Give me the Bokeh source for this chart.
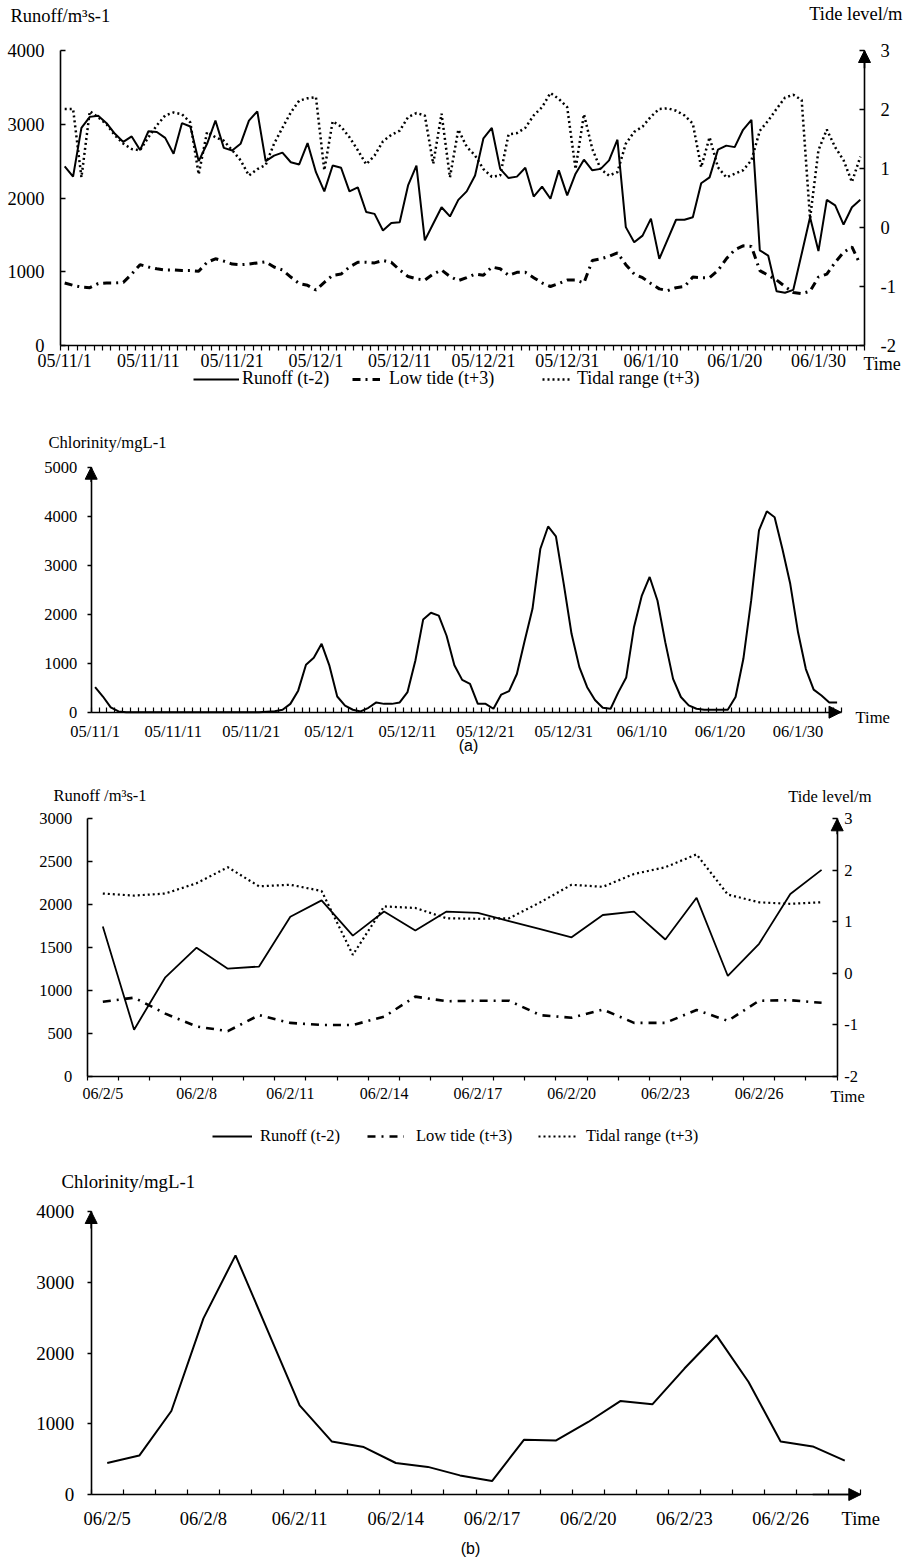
import numpy as np
from bokeh.plotting import figure
from bokeh.models import (Range1d, LinearAxis, FixedTicker, Label, Legend,
                          LegendItem, Arrow, NormalHead)
from bokeh.layouts import column
from bokeh.embed import file_html
from bokeh.resources import INLINE

SERIF = "Liberation Serif"
SANS = "Liberation Sans"

# ---------------- (a) daily series, 05/11/1 .. 06/2/4 ----------------
runoff_a = [2430, 2290, 2950, 3100, 3115, 3015, 2870, 2760, 2835, 2650,
            2905, 2895, 2815, 2600, 3015, 2970, 2500, 2735, 3050, 2680,
            2645, 2735, 3050, 3175, 2500, 2575, 2615, 2485, 2455, 2745,
            2350, 2090, 2440, 2410, 2090, 2145, 1810, 1785, 1560, 1660,
            1670, 2170, 2440, 1425, 1650, 1875, 1750, 1975, 2090, 2305,
            2810, 2950, 2395, 2270, 2290, 2410, 2020, 2155, 1990, 2375,
            2035, 2330, 2520, 2375, 2395, 2510, 2790, 1605, 1400, 1490,
            1720, 1175, 1440, 1705, 1705, 1740, 2200, 2280, 2655, 2710,
            2690, 2925, 3060, 1290, 1220, 735, 715, 755, 1245, 1740,
            1280, 1975, 1900, 1640, 1875, 1975]
low_tide_a = [-0.94, -0.98, -1.01, -1.02, -0.95, -0.94, -0.94, -0.93, -0.79, -0.63,
              -0.67, -0.70, -0.72, -0.72, -0.73, -0.73, -0.74, -0.59, -0.53, -0.57,
              -0.62, -0.63, -0.62, -0.60, -0.58, -0.67, -0.72, -0.84, -0.95, -0.98,
              -1.06, -0.93, -0.81, -0.79, -0.67, -0.59, -0.59, -0.60, -0.56, -0.59,
              -0.72, -0.83, -0.87, -0.89, -0.79, -0.72, -0.83, -0.90, -0.85, -0.79,
              -0.81, -0.67, -0.70, -0.81, -0.76, -0.76, -0.85, -0.94, -1.00, -0.95,
              -0.89, -0.89, -0.94, -0.56, -0.53, -0.49, -0.43, -0.63, -0.79, -0.85,
              -0.95, -1.04, -1.07, -1.02, -1.00, -0.84, -0.85, -0.85, -0.73, -0.53,
              -0.38, -0.31, -0.32, -0.73, -0.81, -0.89, -1.00, -1.10, -1.12, -1.08,
              -0.84, -0.79, -0.59, -0.42, -0.33, -0.63]
tidal_range_a = [2.01, 2.01, 0.85, 1.97, 1.87, 1.75, 1.56, 1.42, 1.33, 1.31,
                 1.53, 1.73, 1.90, 1.95, 1.92, 1.78, 0.90, 1.62, 1.53, 1.47,
                 1.31, 1.14, 0.88, 0.99, 1.06, 1.42, 1.69, 1.95, 2.15, 2.19,
                 2.21, 0.97, 1.80, 1.71, 1.53, 1.31, 1.07, 1.22, 1.46, 1.57,
                 1.64, 1.87, 1.94, 1.90, 1.08, 1.93, 0.85, 1.66, 1.37, 1.22,
                 0.99, 0.86, 0.88, 1.58, 1.60, 1.69, 1.90, 2.04, 2.28, 2.18,
                 2.04, 0.99, 1.92, 1.33, 0.99, 0.88, 0.94, 1.42, 1.62, 1.71,
                 1.88, 2.01, 2.02, 1.98, 1.90, 1.76, 1.02, 1.53, 1.02, 0.85,
                 0.91, 0.97, 1.14, 1.64, 1.81, 2.01, 2.20, 2.25, 2.16, 0.15,
                 1.31, 1.66, 1.36, 1.14, 0.77, 1.20]
chlorinity_a = [510, 320, 100, 15, 0, 0, 0, 0, 0, 0,
                0, 0, 0, 0, 0, 0, 0, 0, 0, 0,
                0, 0, 10, 20, 50, 170, 440, 970, 1110, 1395,
                950, 320, 135, 50, 15, 90, 200, 170, 170, 200,
                410, 1050, 1890, 2030, 1970, 1560, 960, 660, 580, 170,
                170, 70, 360, 430, 780, 1460, 2110, 3330, 3790, 3590,
                2620, 1600, 920, 510, 250, 90, 70, 410, 710, 1740,
                2380, 2760, 2280, 1430, 680, 310, 140, 70, 50, 50,
                50, 50, 310, 1090, 2280, 3710, 4100, 3980, 3330, 2620,
                1630, 880, 460, 340, 200, 200]
ticks_a = ["05/11/1", "05/11/11", "05/11/21", "05/12/1", "05/12/11",
           "05/12/21", "05/12/31", "06/1/10", "06/1/20", "06/1/30"]
tick_step_a = 10

# ---------------- (b) daily series, 06/2/5 .. 06/2/28 ----------------
runoff_b = [1745, 545, 1155, 1500, 1255, 1280, 1860, 2050, 1640, 1920, 1700, 1920,
            1905, 1810, 1715, 1620, 1880, 1920, 1595, 2080, 1170, 1545, 2125, 2405]
low_tide_b = [-0.55, -0.47, -0.78, -1.03, -1.12, -0.81, -0.96, -1.00, -1.00, -0.84, -0.45, -0.54,
              -0.53, -0.53, -0.81, -0.86, -0.70, -0.96, -0.96, -0.71, -0.92, -0.53, -0.52, -0.57]
tidal_range_b = [1.55, 1.51, 1.55, 1.75, 2.06, 1.69, 1.72, 1.60, 0.36, 1.30, 1.27, 1.07,
                 1.06, 1.07, 1.38, 1.72, 1.68, 1.93, 2.06, 2.31, 1.53, 1.38, 1.35, 1.38]
chlorinity_b = [445, 550, 1180, 2490, 3380, 2320, 1260, 750, 670, 445, 390, 270,
                190, 775, 765, 1025, 1320, 1275, 1780, 2250, 1590, 750, 680, 480]
ticks_b = ["06/2/5", "06/2/8", "06/2/11", "06/2/14", "06/2/17", "06/2/20", "06/2/23", "06/2/26"]
tick_step_b = 3

TIDE_LIM = (-2, 3)
tide_ticks = [-2, -1, 0, 1, 2, 3]
PAGE_W = 904


class Geo:
    """Maps figure pixels to data so that the axes box lands at (left, right, top, bottom)."""

    def __init__(self, height, n, ymax, left, right, top, bottom):
        self.height, self.n, self.ymax = height, n, ymax
        self.cw = (right - left) / n
        self.x_lo = -left / self.cw
        self.x_hi = (PAGE_W - left) / self.cw
        self.ypp = ymax / (bottom - top)
        self.y_lo = -(height - bottom) * self.ypp
        self.y_hi = ymax + top * self.ypp
        t0, t1 = TIDE_LIM
        tpp = (t1 - t0) / (bottom - top)
        self.t_lo = t0 - (height - bottom) * tpp
        self.t_hi = t1 + top * tpp

    def x(self, px):
        return self.x_lo + px / self.cw

    def y(self, py):
        return self.y_hi - py * self.ypp


def make_fig(g):
    p = figure(width=PAGE_W, height=g.height,
               x_range=Range1d(g.x_lo, g.x_hi), y_range=Range1d(g.y_lo, g.y_hi),
               output_backend="svg", toolbar_location=None, min_border=0)
    p.outline_line_color = None
    p.xgrid.visible = False
    p.ygrid.visible = False
    p.background_fill_color = "white"
    p.border_fill_color = "white"
    return p


def style_axis(ax, size, standoff, tick_in=0, tick_out=0):
    ax.axis_line_color = "black"
    ax.axis_line_width = 1.6
    ax.major_tick_line_color = "black"
    ax.major_tick_line_width = 1.4
    ax.major_tick_in = tick_in
    ax.major_tick_out = tick_out
    ax.minor_tick_line_color = None
    ax.major_label_text_font = SERIF
    ax.major_label_text_font_size = f"{size}px"
    ax.major_label_text_color = "black"
    ax.major_label_standoff = standoff


def date_axis(ax, n, labels, step, size, standoff, minor_in, minor_out):
    centers = [k * step + 0.5 for k in range(len(labels))]
    ax.ticker = FixedTicker(ticks=centers, minor_ticks=list(range(n + 1)))
    ax.major_label_overrides = {c: t for c, t in zip(centers, labels)}
    style_axis(ax, size, standoff)
    ax.minor_tick_line_color = "black"
    ax.minor_tick_line_width = 1.2
    ax.minor_tick_in = minor_in
    ax.minor_tick_out = minor_out
    ax.fixed_location = 0
    ax.bounds = (0, n)


def put_text(p, g, px, py, text, size, align="left", font=SERIF):
    p.add_layout(Label(x=g.x(px), y=g.y(py), text=text, text_font=font,
                       text_font_size=f"{size}px", text_align=align,
                       text_baseline="middle", text_color="black"))


def put_legend(p, g, renderer, text, px, py, glyph_w, standoff, size):
    box = int(round(size))
    lg = Legend(items=[LegendItem(label=text, renderers=[renderer])],
                location=(px, g.height - py - box / 2),
                orientation="horizontal", glyph_width=glyph_w, glyph_height=box,
                label_height=box, label_standoff=standoff, padding=0, margin=0,
                spacing=0, border_line_color=None, background_fill_alpha=0,
                label_text_font=SERIF, label_text_font_size=f"{size}px",
                label_text_color="black")
    p.add_layout(lg)


def arrow(p, x0, y0, x1, y1, size=11, y_range_name="default"):
    p.add_layout(Arrow(end=NormalHead(size=size, fill_color="black", line_color="black"),
                       x_start=x0, y_start=y0, x_end=x1, y_end=y1,
                       line_color="black", line_width=1.6, y_range_name=y_range_name))


def tide_panel(g, runoff, low, rng, labels, step, st, legend_spec, titles):
    p = make_fig(g)
    n = len(runoff)
    xs = np.arange(n) + 0.5
    p.extra_y_ranges = {"tide": Range1d(g.t_lo, g.t_hi)}

    date_axis(p.xaxis[0], n, labels, step, st["xsize"], st["xstand"], 0, st["minor"])
    ly = p.yaxis[0]
    style_axis(ly, st["ysize"], st["lstand"], tick_in=5)
    ly.ticker = FixedTicker(ticks=st["lticks"])
    ly.fixed_location = 0
    ly.bounds = (0, g.ymax)
    ry = LinearAxis(y_range_name="tide", ticker=FixedTicker(ticks=tide_ticks))
    ry.major_label_overrides = {v: str(v) for v in tide_ticks}
    style_axis(ry, st["ysize"], st["rstand"], tick_in=5)
    ry.fixed_location = n
    ry.bounds = TIDE_LIM
    p.add_layout(ry, "right")

    r_run = p.line(xs, runoff, line_color="black", line_width=st["lw"])
    r_low = p.line(xs, low, y_range_name="tide", line_color="black",
                   line_width=st["lw_low"], line_dash=st["dash_low"])
    r_rng = p.line(xs, rng, y_range_name="tide", line_color="black",
                   line_width=st["lw_rng"], line_dash="2 3")
    arrow(p, n, 2.7, n, 3, size=12, y_range_name="tide")

    for (r, text), spec in zip([(r_run, "Runoff (t-2)"), (r_low, "Low tide (t+3)"),
                                (r_rng, "Tidal range (t+3)")], legend_spec["items"]):
        put_legend(p, g, r, text, spec[0], legend_spec["y"], spec[1], spec[2], legend_spec["size"])

    for t in titles:
        put_text(p, g, *t)
    return p


def chl_panel(g, values, labels, step, st, titles):
    p = make_fig(g)
    n = len(values)
    xs = np.arange(n) + 0.5
    date_axis(p.xaxis[0], n, labels, step, st["xsize"], st["xstand"], 5, 0)
    ly = p.yaxis[0]
    style_axis(ly, st["ysize"], st["lstand"], tick_out=4)
    ly.ticker = FixedTicker(ticks=st["lticks"])
    ly.fixed_location = 0
    ly.bounds = (0, g.ymax)
    p.line(xs, values, line_color="black", line_width=2)
    arrow(p, 0, g.ymax * 0.94, 0, g.ymax, size=12)
    arrow(p, n - 1.5, 0, n, 0, size=12)
    for t in titles:
        put_text(p, g, *t)
    return p


# ---- (a) runoff / tide, page rows 0..405 ----
g1 = Geo(405, len(runoff_a), 4000, 60, 864, 50, 345)
p1 = tide_panel(
    g1, runoff_a, low_tide_a, tidal_range_a, ticks_a, tick_step_a,
    {"xsize": 18, "ysize": 18.5, "xstand": 0, "lstand": 16, "rstand": 16, "minor": 5,
     "lticks": [0, 1000, 2000, 3000, 4000], "lw": 2, "lw_low": 3, "lw_rng": 2.5,
     "dash_low": "8 5 2 5"},
    {"y": 380, "size": 18,
     "items": [(193, 46, 3), (352, 28, 9), (542, 28, 7)]},
    [(10, 15, "Runoff/m³s-1", 18.5), (902, 13, "Tide level/m", 18.5, "right"),
     (863, 363, "Time", 18)])

# ---- (a) chlorinity, page rows 405..760 ----
g2 = Geo(355, len(chlorinity_a), 5000, 90.7, 840.5, 61.7, 306.7)
p2 = chl_panel(
    g2, chlorinity_a, ticks_a, tick_step_a,
    {"xsize": 16.5, "ysize": 16.5, "xstand": 10, "lstand": 10,
     "lticks": [0, 1000, 2000, 3000, 4000, 5000]},
    [(48, 36.7, "Chlorinity/mgL-1", 16.6), (855, 311.7, "Time", 16.6),
     (468, 340, "(a)", 16, "center", SANS)])

# ---- (b) runoff / tide, page rows 760..1155 ----
g3 = Geo(395, len(runoff_b), 3000, 86.7, 836.7, 58.3, 316)
p3 = tide_panel(
    g3, runoff_b, low_tide_b, tidal_range_b, ticks_b, tick_step_b,
    {"xsize": 16, "ysize": 16.5, "xstand": 4, "lstand": 15, "rstand": 7, "minor": 4,
     "lticks": [0, 500, 1000, 1500, 2000, 2500, 3000], "lw": 1.8, "lw_low": 2.6,
     "lw_rng": 2.2, "dash_low": "8 6 2 6"},
    {"y": 378, "size": 16.5,
     "items": [(212, 40, 8), (367, 37, 12), (538, 39, 9)]},
    [(53, 35, "Runoff /m³s-1", 16.5), (871, 36, "Tide level/m", 16.5, "right"),
     (830, 336, "Time", 16.5)])

# ---- (b) chlorinity, page rows 1155..1559 ----
g4 = Geo(404, len(chlorinity_b), 4000, 90.7, 860.3, 56, 339)
p4 = chl_panel(
    g4, chlorinity_b, ticks_b, tick_step_b,
    {"xsize": 18.5, "ysize": 19, "xstand": 14, "lstand": 13,
     "lticks": [0, 1000, 2000, 3000, 4000]},
    [(61, 26, "Chlorinity/mgL-1", 18.8), (841, 363, "Time", 18.5),
     (470, 393, "(b)", 16, "center", SANS)])

layout = column(p1, p2, p3, p4, spacing=0)
open("out.html", "w").write(file_html(layout, INLINE))
